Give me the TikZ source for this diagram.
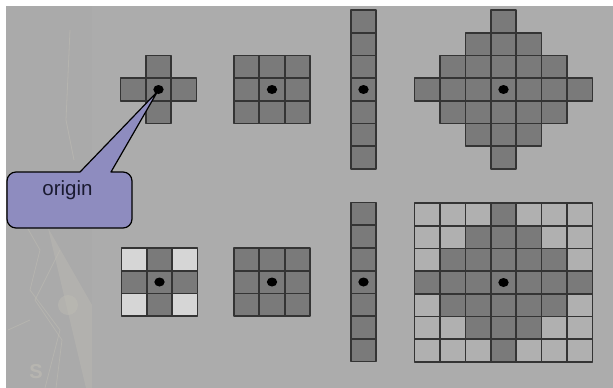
\documentclass[tikz,border=0pt]{standalone}
\usepackage{fontspec}
\setmainfont{Liberation Sans}
\usetikzlibrary{calc}
\definecolor{bggray}{HTML}{ACACAC}
\definecolor{stripgray}{HTML}{AAAAAA}
\definecolor{darkcell}{HTML}{7A7A7A}
\definecolor{lightcell}{HTML}{D6D6D6}
\definecolor{palecell}{HTML}{B0B0B0}
\definecolor{cellline}{HTML}{343434}
\definecolor{calloutfill}{HTML}{8E8CBF}
\definecolor{faint}{HTML}{BDBBB3}
\definecolor{textdark}{HTML}{1A1A30}
\def\cw{25.4}
\def\ch{22.7}
\tikzset{
  cellbox/.style={draw=cellline, line width=1.7pt, line join=round},
  originmark/.style={fill=black},
  calloutbox/.style={fill=calloutfill, draw=black, line width=1.2pt, line join=round},
  faintline/.style={draw=faint, line width=0.8pt, opacity=0.6}
}
\newcommand\kcell[5]{\path[cellbox, fill=#5] ({#1+(#3-0.5)*\cw},{#2+(#4-0.5)*\ch}) rectangle ({#1+(#3+0.5)*\cw},{#2+(#4+0.5)*\ch});}
\begin{document}
\begin{tikzpicture}[x=1pt,y=-1pt]
\useasboundingbox (0,0) rectangle (613,388);
\fill[white] (0,0) rectangle (613,388);
\fill[bggray] (6,6) rectangle (613,388);
\fill[stripgray] (6,6) rectangle (92,388);
% faint compass decoration
\fill[faint, opacity=0.45] (48,228) -- (92,305) -- (92,388) -- (86,388) -- cycle;
\fill[faint, opacity=0.5] (68,305) circle (10);
\path[faintline] (20,215) -- (40,250) -- (30,290) -- (60,330) -- (45,388);
\path[faintline] (8,330) -- (30,320);
\path[faintline] (60,250) -- (35,300) -- (62,340) -- (56,388);
\path[faintline] (70,30) -- (66,120) -- (74,160);
\node[text=faint, font=\bfseries\fontsize{20}{20}\selectfont, opacity=0.7] (sletter) at (36,372) {S};
% grid A: cross
\coordinate (dotA) at (158.5,89.5);
\foreach \i/\j in {0/-1,-1/0,0/0,1/0,0/1} {\kcell{158.5}{89.5}{\i}{\j}{darkcell}}
% grid B: full 3x3
\coordinate (dotB) at (272,89.5);
\foreach \i in {-1,0,1} {\foreach \j in {-1,0,1} {\kcell{272}{89.5}{\i}{\j}{darkcell}}}
% grid C: vertical bar
\coordinate (dotC) at (363.5,89.5);
\foreach \j in {-3,...,3} {\kcell{363.5}{89.5}{0}{\j}{darkcell}}
% grid D: diamond
\coordinate (dotD) at (503.5,89.5);
\foreach \i in {-3,...,3} {\foreach \j in {-3,...,3} {
  \pgfmathtruncatemacro\dd{abs(\i)+abs(\j)}
  \ifnum\dd<4 \kcell{503.5}{89.5}{\i}{\j}{darkcell}\fi}}
% grid E: 3x3 with light corners
\coordinate (dotE) at (159.5,282);
\foreach \i in {-1,0,1} {\foreach \j in {-1,0,1} {
  \pgfmathtruncatemacro\dd{abs(\i)+abs(\j)}
  \ifnum\dd<2 \kcell{159.5}{282}{\i}{\j}{darkcell}\else \kcell{159.5}{282}{\i}{\j}{lightcell}\fi}}
% grid F: full 3x3
\coordinate (dotF) at (272,282);
\foreach \i in {-1,0,1} {\foreach \j in {-1,0,1} {\kcell{272}{282}{\i}{\j}{darkcell}}}
% grid G: vertical bar
\coordinate (dotG) at (363.5,282);
\foreach \j in {-3,...,3} {\kcell{363.5}{282}{0}{\j}{darkcell}}
% grid H: 7x7 with diamond
\coordinate (dotH) at (503.5,282.5);
\foreach \i in {-3,...,3} {\foreach \j in {-3,...,3} {
  \pgfmathtruncatemacro\dd{abs(\i)+abs(\j)}
  \ifnum\dd<4 \kcell{503.5}{282.5}{\i}{\j}{darkcell}\else \kcell{503.5}{282.5}{\i}{\j}{palecell}\fi}}
% callout
\path[calloutbox] (80,172) -- ($(dotA)+(-1,2)$) -- (111,172) [rounded corners=9pt] -- (132,172) -- (132,228) -- (7,228) -- (7,172) -- (50,172) [sharp corners] -- cycle;
\node[anchor=base, text=textdark, font=\fontsize{20.5}{20.5}\selectfont, inner sep=0pt] (origlabel) at (67.5,195) {origin};
% origin dots
\foreach \d in {dotA,dotB,dotC,dotD,dotE,dotF,dotG,dotH} {\fill[originmark] (\d) ellipse (5.2 and 4.5);}
\end{tikzpicture}
\end{document}
